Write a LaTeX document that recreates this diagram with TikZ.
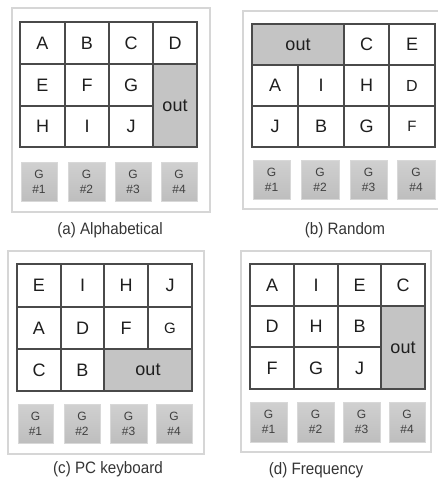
\documentclass[tikz,border=0pt]{standalone}
\usepackage{fontspec}
\setmainfont{Liberation Sans}
\newfontfamily\capfont[FakeStretch=0.92]{Liberation Sans}
\definecolor{gridline}{HTML}{4A4A4A}
\definecolor{outfill}{HTML}{C4C4C4}
\definecolor{framecol}{HTML}{D6D6D6}
\definecolor{btnborder}{HTML}{D8D8D8}
\definecolor{btntop}{HTML}{D0D0D0}
\definecolor{btnbot}{HTML}{BEBEBE}
\definecolor{txt}{HTML}{1E1E1E}
\newcommand\mycell[6]{\node[cell, minimum width={#4-#2}, minimum height={#5-#3}] (#1) at ({(#2+#4)/2},{(#3+#5)/2}) {#6};}
\newcommand\myout[5]{\node[cell, outcell, minimum width={#4-#2}, minimum height={#5-#3}] (#1) at ({(#2+#4)/2},{(#3+#5)/2}) {out};}
\newcommand\mybtn[6]{\node[btnbox, minimum width={#4-#2}, minimum height={#5-#3}] (#1) at ({(#2+#4)/2},{(#3+#5)/2}) {G\\\##6};}
\newcommand\myframe[5]{\node[framebox, minimum width={#4-#2}, minimum height={#5-#3}] (#1) at ({(#2+#4)/2},{(#3+#5)/2}) {};}
\begin{document}
\begin{tikzpicture}[x=1pt, y=-1pt,
  cell/.style={draw=gridline, line width=1.4pt, inner sep=0pt, text=txt,
    font=\fontsize{18}{18}\selectfont},
  outcell/.style={fill=outfill},
  btnbox/.style={draw=btnborder, line width=0.8pt, top color=btntop, bottom color=btnbot,
    inner sep=0pt, align=center, text=txt!85, font=\fontsize{12}{15}\selectfont},
  framebox/.style={draw=framecol, line width=2pt, fill=white, inner sep=0pt},
  caption/.style={text=txt!90, font=\capfont\fontsize{16.5}{16.5}\selectfont}]
\useasboundingbox (0,0) rectangle (438,481);
\fill[white] (0,0) rectangle (438,481);

% ---------- (a) Alphabetical ----------
\myframe{fa}{12}{8}{210}{212}
\mycell{aA}{20}{22}{65}{64}{A}
\mycell{aB}{65}{22}{109}{64}{B}
\mycell{aC}{109}{22}{153}{64}{C}
\mycell{aD}{153}{22}{197}{64}{D}
\mycell{aE}{20}{64}{65}{106}{E}
\mycell{aF}{65}{64}{109}{106}{F}
\mycell{aG}{109}{64}{153}{106}{G}
\mycell{aH}{20}{106}{65}{147}{H}
\mycell{aI}{65}{106}{109}{147}{I}
\mycell{aJ}{109}{106}{153}{147}{J}
\myout{aout}{153}{64}{197}{147}
\mybtn{ab1}{21}{162}{57}{201}{1}
\mybtn{ab2}{68}{162}{105}{201}{2}
\mybtn{ab3}{115}{162}{151}{201}{3}
\mybtn{ab4}{161}{162}{197}{201}{4}
\node[caption] (capa) at (110,230) {(a) Alphabetical};

% ---------- (b) Random ----------
\myframe{fb}{243}{11}{442}{209}
\myout{bout}{252}{24}{344}{65}
\mycell{bC}{344}{24}{389}{65}{C}
\mycell{bE}{389}{24}{435}{65}{E}
\mycell{bA}{252}{65}{298}{106}{A}
\mycell{bI}{298}{65}{344}{106}{I}
\mycell{bH}{344}{65}{389}{106}{H}
\mycell{bD}{389}{65}{435}{106}{\fontsize{16}{16}\selectfont D}
\mycell{bJ}{252}{106}{298}{147}{J}
\mycell{bB}{298}{106}{344}{147}{B}
\mycell{bG}{344}{106}{389}{147}{G}
\mycell{bF}{389}{106}{435}{147}{\fontsize{15}{15}\selectfont F}
\mybtn{bb1}{253}{160}{290}{199}{1}
\mybtn{bb2}{301}{160}{339}{199}{2}
\mybtn{bb3}{350}{160}{387}{199}{3}
\mybtn{bb4}{397}{160}{435}{199}{4}
\node[caption] (capb) at (345,230) {(b) Random};

% ---------- (c) PC keyboard ----------
\myframe{fc}{8}{251}{204}{454}
\mycell{cE}{17}{264}{61}{307}{E}
\mycell{cI}{61}{264}{104}{307}{I}
\mycell{cH}{104}{264}{148}{307}{H}
\mycell{cJ}{148}{264}{192}{307}{J}
\mycell{cA}{17}{307}{61}{349}{A}
\mycell{cD}{61}{307}{104}{349}{D}
\mycell{cF}{104}{307}{148}{349}{F}
\mycell{cG}{148}{307}{192}{349}{\fontsize{15}{15}\selectfont G}
\mycell{cC}{17}{349}{61}{391}{C}
\mycell{cB}{61}{349}{104}{391}{B}
\myout{cout}{104}{349}{192}{391}
\mybtn{cb1}{18}{404}{53}{443}{1}
\mybtn{cb2}{64}{404}{100}{443}{2}
\mybtn{cb3}{110}{404}{147}{443}{3}
\mybtn{cb4}{156}{404}{192}{443}{4}
\node[caption] (capc) at (108,469) {(c) PC keyboard};

% ---------- (d) Frequency ----------
\myframe{fd}{241}{251}{431}{452}
\mycell{dA}{250}{264}{294}{306}{A}
\mycell{dI}{294}{264}{338}{306}{I}
\mycell{dE}{338}{264}{381}{306}{E}
\mycell{dC}{381}{264}{425}{306}{C}
\mycell{dD}{250}{306}{294}{347}{D}
\mycell{dH}{294}{306}{338}{347}{H}
\mycell{dB}{338}{306}{381}{347}{B}
\mycell{dF}{250}{347}{294}{389}{F}
\mycell{dG}{294}{347}{338}{389}{G}
\mycell{dJ}{338}{347}{381}{389}{J}
\myout{dout}{381}{306}{425}{389}
\mybtn{db1}{250}{402}{287}{442}{1}
\mybtn{db2}{297}{402}{334}{442}{2}
\mybtn{db3}{343}{402}{380}{442}{3}
\mybtn{db4}{389}{402}{425}{442}{4}
\node[caption] (capd) at (316,470) {(d) Frequency};
\end{tikzpicture}
\end{document}
